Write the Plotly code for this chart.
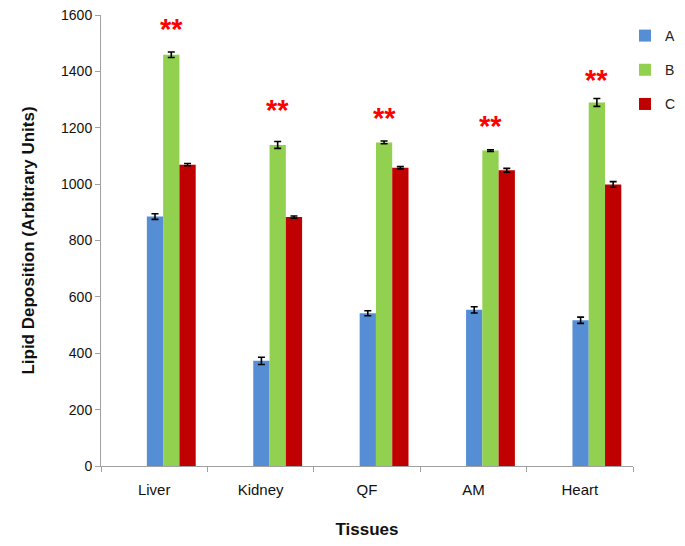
import plotly.graph_objects as go

tissues = ["Liver", "Kidney", "QF", "AM", "Heart"]
series_names = ["A", "B", "C"]
a_vals = [885, 373, 542, 554, 517]
b_vals = [1459, 1139, 1148, 1119, 1290]
c_vals = [1069, 883, 1058, 1049, 999]
a_err = [10, 13, 9, 11, 11]
b_err = [10, 12, 5, 3, 14]
c_err = [4, 4, 4, 7, 10]
star_heights = [1552, 1262, 1236, 1208, 1368]
y_ticks = [0, 200, 400, 600, 800, 1000, 1200, 1400, 1600]

colors = ["#558ED5", "#92D050", "#C00000"]
bar_w = 0.153
offsets = [-0.069, 0.084, 0.237]

fig = go.Figure()
for name, vals, errs, col, off in zip(series_names, [a_vals, b_vals, c_vals],
                                      [a_err, b_err, c_err], colors, offsets):
    fig.add_trace(go.Bar(
        x=tissues, y=vals, name=name, legendgroup=name,
        marker=dict(color=col, line=dict(width=0)),
        width=bar_w, offset=off,
        error_y=dict(type="data", array=errs, color="black", thickness=1.6, width=3.5),
    ))

for i, h in enumerate(star_heights):
    fig.add_annotation(x=i + offsets[1] + bar_w / 2, y=h, xref="x", yref="y",
                       text="<b>**</b>", showarrow=False, yanchor="middle",
                       font=dict(family="Arial, Liberation Sans", size=29, color="#FF0000"))

# page body has an 8px default margin, so the figure is sized to fit inside 685x546
fig.update_layout(
    width=677, height=538,
    margin=dict(l=93, r=52, t=7, b=80, autoexpand=False),
    plot_bgcolor="white", paper_bgcolor="white",
    barmode="overlay",
    font=dict(family="Arial, Liberation Sans", color="#222222"),
    legend=dict(x=0.985, y=0.989, xanchor="left", yanchor="top",
                font=dict(size=14), tracegroupgap=13, itemwidth=30,
                bgcolor="rgba(0,0,0,0)"),
    showlegend=True,
)
fig.update_xaxes(
    type="category", range=[-0.5, 4.5], automargin=False,
    showline=True, linecolor="#A0A0A0", linewidth=1,
    ticks="outside", tickson="boundaries", ticklen=5, tickcolor="#A0A0A0",
    ticklabelstandoff=10,
    tickfont=dict(size=15, color="#111111"), showgrid=False,
    title=dict(text="<b>Tissues</b>", font=dict(size=17, color="#111111"), standoff=26),
)
fig.update_yaxes(
    range=[0, 1600], tickvals=y_ticks, automargin=False,
    ticklabeloverflow="allow",
    showline=True, linecolor="#A0A0A0", linewidth=1,
    ticks="outside", ticklen=5, tickcolor="#A0A0A0",
    tickfont=dict(size=14, color="#111111"), showgrid=False, zeroline=False,
    title=dict(text="<b>Lipid Deposition (Arbitrary Units)</b>",
               font=dict(size=17, color="#111111"), standoff=22),
)

fig.write_html("out.html")
